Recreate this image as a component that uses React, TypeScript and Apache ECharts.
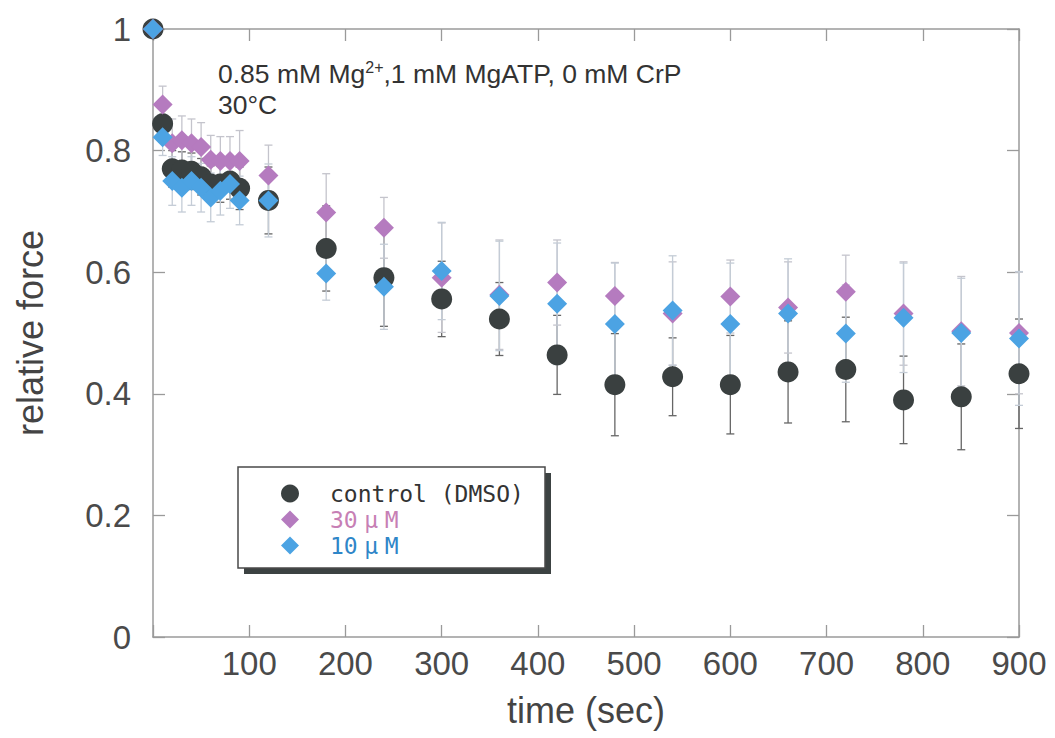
import React, { useEffect, useRef } from 'react';
import * as echarts from 'echarts';

const times = [0, 10, 20, 30, 40, 50, 60, 70, 80, 90, 120, 180, 240, 300, 360, 420, 480, 540, 600, 660, 720, 780, 840, 900];
const controlValues = [1.0, 0.844, 0.77, 0.768, 0.766, 0.757, 0.745, 0.745, 0.75, 0.738, 0.718, 0.639, 0.591, 0.556, 0.523, 0.464, 0.415, 0.428, 0.415, 0.436, 0.44, 0.39, 0.395, 0.433];
const controlErrors = [0, 0.03, 0.03, 0.03, 0.03, 0.03, 0.03, 0.03, 0.03, 0.035, 0.055, 0.07, 0.08, 0.062, 0.06, 0.065, 0.084, 0.064, 0.081, 0.084, 0.086, 0.072, 0.087, 0.09];
const uM30Values = [1.0, 0.876, 0.812, 0.817, 0.812, 0.806, 0.785, 0.783, 0.783, 0.783, 0.759, 0.698, 0.673, 0.591, 0.563, 0.583, 0.561, 0.532, 0.56, 0.542, 0.568, 0.532, 0.503, 0.5];
const uM30Errors = [0, 0.03, 0.04, 0.04, 0.04, 0.04, 0.04, 0.04, 0.04, 0.05, 0.05, 0.064, 0.05, 0.09, 0.09, 0.07, 0.055, 0.085, 0.06, 0.075, 0.06, 0.085, 0.09, 0.1];
const uM10Values = [1.0, 0.822, 0.75, 0.739, 0.75, 0.739, 0.723, 0.734, 0.745, 0.718, 0.718, 0.598, 0.576, 0.602, 0.561, 0.548, 0.515, 0.537, 0.515, 0.532, 0.499, 0.525, 0.5, 0.491];
const uM10Errors = [0, 0.03, 0.04, 0.04, 0.04, 0.04, 0.04, 0.04, 0.04, 0.04, 0.06, 0.044, 0.07, 0.08, 0.09, 0.1, 0.1, 0.09, 0.1, 0.09, 0.08, 0.09, 0.09, 0.11];

const seriesNames = ['control (DMSO)', '30μM', '10μM'];
const markerColors = ['#3a4040', '#b57bbf', '#4ca3e3'];
const legendTextColors = ['#333333', '#c77fb5', '#2f86c8'];
const errorColors = ['#666666', '#c4c4cc', '#c4ccd6'];

const annotationLine1 = '0.85 mM Mg{sup|2+},1 mM MgATP, 0 mM CrP';
const annotationLine2 = '30°C';

const FONT = '"Liberation Sans", Arial, Helvetica, sans-serif';
const MONO = '"DejaVu Sans Mono", "Liberation Mono", monospace';

function errSeries(values: number[], errs: number[], color: string) {
  return {
    type: 'custom',
    silent: true,
    z: 1,
    clip: false,
    encode: { x: 0, y: [1, 2] },
    data: times.map((t, i) => [t, values[i] - errs[i], values[i] + errs[i]]),
    renderItem: (params: any, api: any) => {
      const x = api.value(0);
      const lo = api.coord([x, api.value(1)]);
      const hi = api.coord([x, api.value(2)]);
      const cap = 4;
      const style = { stroke: color, lineWidth: 1.3 };
      return {
        type: 'group',
        children: [
          { type: 'line', shape: { x1: lo[0], y1: lo[1], x2: hi[0], y2: hi[1] }, style },
          { type: 'line', shape: { x1: lo[0] - cap, y1: lo[1], x2: lo[0] + cap, y2: lo[1] }, style },
          { type: 'line', shape: { x1: hi[0] - cap, y1: hi[1], x2: hi[0] + cap, y2: hi[1] }, style },
        ],
      };
    },
  };
}

export default function App() {
  const ref = useRef<HTMLDivElement>(null);
  useEffect(() => {
    const chart = echarts.init(ref.current!, null, { renderer: 'svg' });
    const axisLine = { show: true, onZero: false, lineStyle: { color: '#9a9a9a', width: 1.5 } };
    const tick = { show: true, inside: true, length: 12, lineStyle: { color: '#9a9a9a', width: 1.3 } };
    const valuesList = [controlValues, uM30Values, uM10Values];
    const errList = [controlErrors, uM30Errors, uM10Errors];
    const option: any = {
      animation: false,
      backgroundColor: '#ffffff',
      grid: { left: 153, top: 29, width: 866, height: 608, containLabel: false },
      xAxis: [
        {
          type: 'value', min: 0, max: 900, interval: 100, position: 'bottom',
          axisLine, axisTick: tick, splitLine: { show: false },
          axisLabel: {
            color: '#4a4a4a', fontSize: 33, fontFamily: FONT, margin: 10,
            formatter: (v: number) => (v === 0 ? '' : String(v)),
          },
          name: 'time (sec)', nameLocation: 'middle', nameGap: 55,
          nameTextStyle: { color: '#444', fontSize: 36, fontFamily: FONT },
        },
        {
          type: 'value', min: 0, max: 900, interval: 100, position: 'top',
          axisLine, axisTick: tick, axisLabel: { show: false }, splitLine: { show: false },
        },
      ],
      yAxis: [
        {
          type: 'value', min: 0, max: 1, interval: 0.2, position: 'left',
          axisLine, axisTick: tick, splitLine: { show: false },
          axisLabel: {
            color: '#4a4a4a', fontSize: 33, fontFamily: FONT, margin: 22,
            formatter: (v: number) => String(Math.round(v * 10) / 10),
          },
          name: 'relative force', nameLocation: 'middle', nameGap: 105,
          nameTextStyle: { color: '#444', fontSize: 36, fontFamily: FONT },
        },
        {
          type: 'value', min: 0, max: 1, interval: 0.2, position: 'right',
          axisLine, axisTick: tick, axisLabel: { show: false }, splitLine: { show: false },
        },
      ],
      legend: {
        orient: 'vertical',
        left: 281,
        top: 482,
        padding: 0,
        itemWidth: 18,
        itemHeight: 18,
        itemGap: 3,
        z: 10,
        formatter: (name: string) => name.replace('μ', '{u|μ}'),
        data: seriesNames.map((n, i) => ({
          name: n,
          icon: i === 0 ? 'circle' : 'diamond',
          textStyle: {
            color: legendTextColors[i], fontSize: 23, fontFamily: MONO, padding: [0, 0, 0, 26],
            rich: { u: { color: legendTextColors[i], fontSize: 23, fontFamily: MONO, width: 27, align: 'center' } },
          },
        })),
      },
      graphic: [
        { type: 'rect', z: 1, shape: { x: 244, y: 473, width: 307, height: 101 }, style: { fill: '#3c4242' } },
        { type: 'rect', z: 2, shape: { x: 238, y: 467, width: 307, height: 101 }, style: { fill: '#ffffff', stroke: '#4a4a4a', lineWidth: 1.5 } },
        {
          type: 'text', z: 5, x: 218, y: 74,
          style: {
            text: annotationLine1, fill: '#333', fontSize: 26.5, fontFamily: FONT, lineHeight: 30,
            verticalAlign: 'middle', align: 'left',
            rich: { sup: { fontSize: 16, fontFamily: FONT, fill: '#333', verticalAlign: 'top', lineHeight: 30 } },
          },
        },
        {
          type: 'text', z: 5, x: 218, y: 105,
          style: { text: annotationLine2, fill: '#333', fontSize: 26.5, fontFamily: FONT, verticalAlign: 'middle', align: 'left' },
        },
      ],
      series: [
        ...valuesList.map((v, i) => errSeries(v, errList[i], errorColors[i])),
        ...valuesList.map((v, i) => ({
          type: 'scatter',
          name: seriesNames[i],
          symbol: i === 0 ? 'circle' : 'diamond',
          symbolSize: i === 0 ? 21 : 20,
          clip: false,
          z: 3 + i,
          itemStyle: { color: markerColors[i], opacity: 1 },
          data: times.map((t, j) => [t, v[j]]),
        })),
      ],
    };
    chart.setOption(option);
    return () => chart.dispose();
  }, []);
  return (
    <div
      ref={ref}
      style={{ position: 'fixed', left: 0, top: 0, width: 1055, height: 738, background: '#fff' }}
    />
  );
}
